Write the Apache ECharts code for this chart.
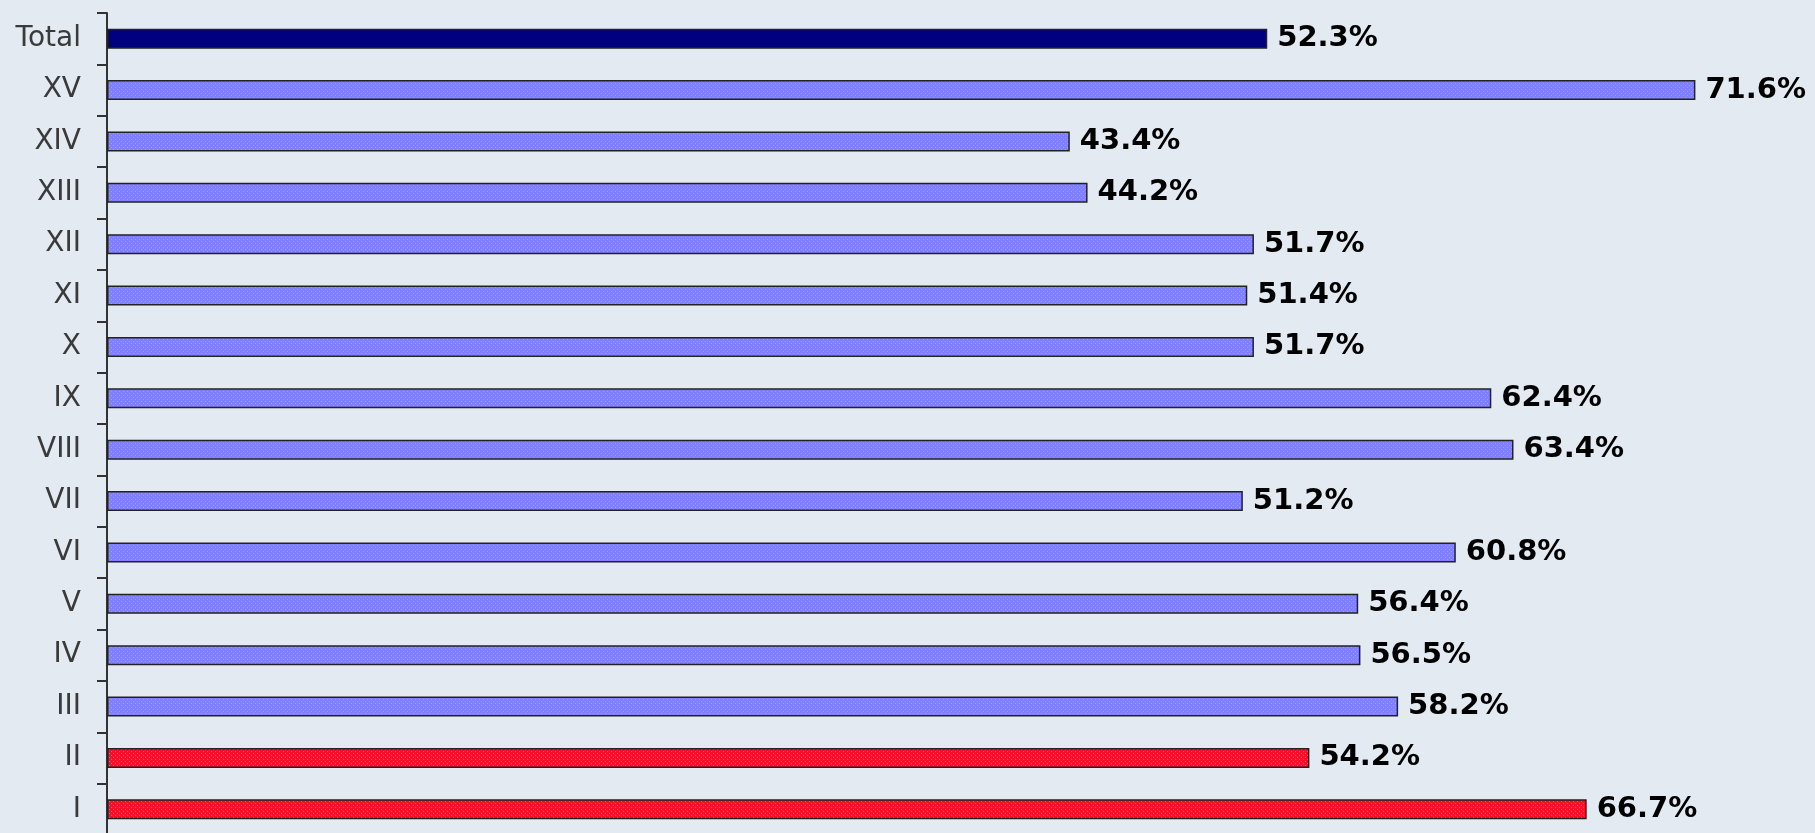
<!DOCTYPE html>
<html>
<head>
<meta charset="utf-8">
<style>
  html, body { margin: 0; padding: 0; background: #e3eaf2; }
  #chart { width: 1815px; height: 833px; }
</style>
<script src="https://cdn.jsdelivr.net/npm/echarts@6/dist/echarts.min.js"></script>
</head>
<body>
<div id="chart"></div>
<script>
// categories top to bottom
var categories = ['Total', 'XV', 'XIV', 'XIII', 'XII', 'XI', 'X', 'IX', 'VIII', 'VII', 'VI', 'V', 'IV', 'III', 'II', 'I'];
var values = [52.3, 71.6, 43.4, 44.2, 51.7, 51.4, 51.7, 62.4, 63.4, 51.2, 60.8, 56.4, 56.5, 58.2, 54.2, 66.7];
// fill kind per bar: total / normal / highlight
var kinds = ['total', 'blue', 'blue', 'blue', 'blue', 'blue', 'blue', 'blue', 'blue', 'blue', 'blue', 'blue', 'blue', 'blue', 'red', 'red'];

// small dotted fill like the original
function makePattern(base, dot) {
    var c = document.createElement('canvas')
    c.width = 4
    c.height = 4
    var ctx = c.getContext('2d')
    ctx.fillStyle = base
    ctx.fillRect(0, 0, 4, 4)
    ctx.fillStyle = dot
    ctx.fillRect(1, 1, 1, 1)
    ctx.fillRect(3, 3, 1, 1)
    return { image: c, repeat: 'repeat' }
}

var fills = {
    total: '#000080',
    blue: makePattern('#8080ff', '#9c9cff'),
    red: makePattern('#f5102c', '#b070d8')
}

var chart = echarts.init(document.getElementById('chart'))

chart.setOption({
    backgroundColor: '#e3eaf2',
    animation: false,
    grid: {
        left: 107,
        top: 13,
        height: 822,
        width: 1686,
        outerBoundsMode: 'none'
    },
    xAxis: {
        type: 'value',
        min: 0,
        max: 76,
        show: false
    },
    yAxis: {
        type: 'category',
        inverse: true,
        data: categories,
        axisLine: {
            lineStyle: { color: '#333', width: 2 }
        },
        axisTick: {
            show: true,
            length: 10,
            lineStyle: { color: '#333', width: 2 }
        },
        axisLabel: {
            margin: 26,
            color: '#3a3a3a',
            fontFamily: 'DejaVu Sans',
            fontSize: 28
        },
        splitLine: { show: false }
    },
    series: [
        {
            type: 'bar',
            barWidth: 20,
            data: values.map(function (v, i) {
                return {
                    value: v,
                    itemStyle: { color: fills[kinds[i]] }
                }
            }),
            itemStyle: {
                borderColor: '#222',
                borderWidth: 1.5
            },
            label: {
                show: true,
                position: 'right',
                distance: 10,
                color: '#000',
                fontFamily: 'DejaVu Sans',
                fontWeight: 'bold',
                fontSize: 29,
                formatter: function (p) {
                    return p.value.toFixed(1) + '%'
                }
            }
        }
    ]
});
</script>
</body>
</html>
